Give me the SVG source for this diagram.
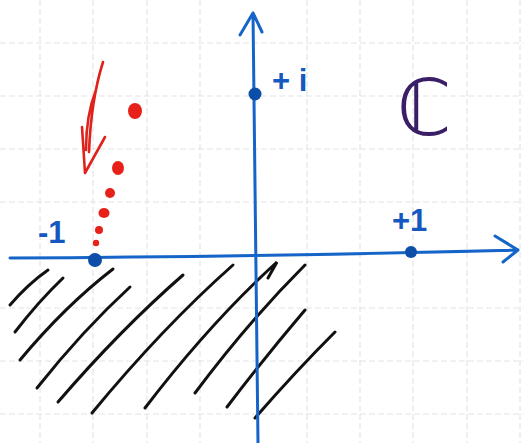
<svg xmlns="http://www.w3.org/2000/svg" width="523" height="443" viewBox="0 0 523 443">
<defs>
<style>
.grid{stroke:#e4e4e4;stroke-width:1.2;stroke-dasharray:6 3;fill:none}
.axis{stroke:#1565c8;stroke-width:3;fill:none;stroke-linecap:round;stroke-linejoin:round}
.hatch{stroke:#111;stroke-width:3;fill:none;stroke-linecap:round}
.pt{fill:#0d4fa8}
.red{fill:#e8201a}
.lbl{font-family:"Liberation Sans",Arial,sans-serif;fill:#1458c0;font-size:31px;font-weight:bold}
</style>
</defs>
<rect width="523" height="443" fill="#ffffff"/>
<g id="grid">
<path class="grid" d="M40 0V443M93 0V443M147 0V443M200 0V443M307 0V443M360 0V443M413 0V443M467 0V443M520 0V443"/>
<path class="grid" d="M0 43H523M0 96H523M0 149H523M0 202H523M0 308H523M0 361H523M0 414H523"/>
</g>
<g id="hatching">
<path class="hatch" d="M10 305Q28 284 48 270"/>
<path class="hatch" d="M15 332Q38 302 63 278"/>
<path class="hatch" d="M20 360Q65 306 113 269"/>
<path class="hatch" d="M37 388Q83 330 130 287"/>
<path class="hatch" d="M58 402Q120 330 183 275"/>
<path class="hatch" d="M92 413Q162 328 233 265"/>
<path class="hatch" d="M145 408Q210 323 277 262L268 278"/>
<path class="hatch" d="M195 393Q248 322 305 265"/>
<path class="hatch" d="M227 407Q265 357 305 310"/>
<path class="hatch" d="M255 418Q295 372 335 332"/>
</g>
<g id="connectors">
<path id="real-axis" class="axis" d="M10 258Q250 257 518 250M495 236L518 250L503 262"/>
<path id="imag-axis" class="axis" d="M258 443Q255 230 253 13M240 35L253 13L262 32"/>
<path id="red-arrow" d="M103 62Q91 100 89 152M96 90Q86 115 86 150M82 127L85 173L105 137" fill="none" stroke="#e0221c" stroke-width="2.6" stroke-linecap="round" stroke-linejoin="round"/>
</g>
<g id="point-minus1"><circle class="pt" cx="95" cy="260" r="7"/><text class="lbl" x="38" y="243">-1</text></g>
<g id="point-plus1"><circle class="pt" cx="411" cy="252" r="6"/><text class="lbl" x="392" y="231">+1</text></g>
<g id="point-i"><circle class="pt" cx="255" cy="94" r="6.5"/><text class="lbl" x="272" y="91">+ i</text></g>
<g id="sequence">
<ellipse class="red" cx="135" cy="111" rx="7" ry="8"/>
<ellipse class="red" cx="118" cy="168" rx="6" ry="7"/>
<circle class="red" cx="110" cy="193" r="5"/>
<ellipse class="red" cx="104" cy="213" rx="5.5" ry="5"/>
<circle class="red" cx="99" cy="230" r="4"/>
<circle class="red" cx="96" cy="243" r="3.2"/>
</g>
<g id="label-C"><text x="397" y="135" font-family="DejaVu Sans, sans-serif" font-size="78" fill="#3a1f66">ℂ</text></g>
</svg>
